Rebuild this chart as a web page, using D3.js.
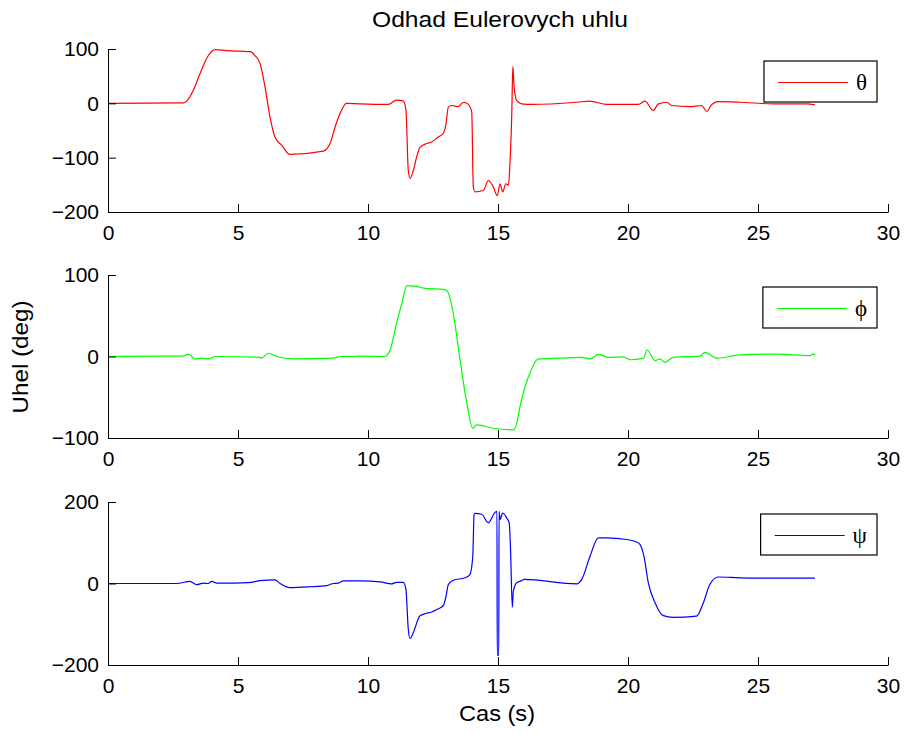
<!DOCTYPE html>
<html lang="en">
<head>
<meta charset="utf-8">
<title>Odhad Eulerovych uhlu</title>
<script src="https://d3js.org/d3.v7.min.js"></script>
<style type="text/css">
body { margin: 0; background: #fff; }
</style>
</head>
<body>
<div id="chart"></div>
<script type="text/javascript">
// Cas (s) and uhel (deg) for each Euler angle
var tTheta = [0, 2.9, 3.03, 3.28, 3.54, 3.86, 4.12, 4.56, 5.46, 5.65, 5.85, 6.04, 6.23, 6.42, 6.68, 7.0, 8.28, 8.54, 8.73, 8.92, 9.18, 9.7, 10.78, 11.1, 11.36, 11.46, 11.55, 11.62, 11.74, 11.87, 12.0, 12.26, 12.45, 12.7, 12.9, 13.0, 13.09, 13.22, 13.47, 13.67, 13.86, 13.99, 14.05, 14.12, 14.44, 14.63, 14.82, 14.97, 15.08, 15.18, 15.3, 15.4, 15.46, 15.53, 15.57, 15.62, 15.72, 15.91, 16.3, 18.03, 18.54, 19.18, 20.4, 20.65, 20.97, 21.17, 21.49, 21.68, 22.38, 22.83, 23.03, 23.22, 23.47, 24.3, 25.59, 26.87, 27.19];
var theta = [0, 1, 4, 24, 55, 88, 99, 97, 95, 88, 73, 30, -25, -62, -77, -94, -88, -74, -44, -19, 0, -1, -2, 6, 4, -13, -124, -138, -124, -99, -81, -74, -71, -62, -55, -38, -7, -4, -6, 2, -2, -16, -154, -163, -160, -142, -154, -170, -148, -163, -148, -151, -111, -19, 68, 30, 5, -1, -2, 2, 4, -2, -2, 4, -13, -1, 2, -4, -6, -4, -15, -2, 3, 2, -1, -1, -3];

var tPhi = [0, 2, 2.9, 3.09, 3.35, 3.6, 3.86, 4.12, 5.85, 5.9, 6.17, 6.49, 7.13, 8.67, 8.92, 9.31, 9.7, 10.65, 10.85, 11.1, 11.3, 11.49, 11.87, 12.13, 12.96, 13.09, 13.28, 13.54, 13.8, 14.03, 14.18, 14.82, 15.59, 15.72, 15.85, 16.23, 16.55, 17.38, 18.22, 18.54, 18.86, 19.24, 19.82, 20.08, 20.59, 20.74, 21.04, 21.23, 21.42, 21.74, 22.77, 22.96, 23.41, 24.3, 25.72, 27.0, 27.1, 27.2];
var phi = [0, 0.5, 0.5, 3, -3, -2, -3, 0, -1, -2, 4, 0, -3, -2, 0, 0, 0.5, 0, 8, 41, 65, 87, 86, 84, 82, 78, 53, -4, -57, -88, -84, -88, -90, -82, -61, -20, -3, -2, -1, -3, 2.5, -1, -0.5, -4, -2, 8, -5, -3, -7, -1, 0.5, 5, -2, 2, 3, 1, 3, 1.5];

var tPsi = [0, 2.64, 3.15, 3.41, 3.67, 3.85, 3.99, 4.18, 4.82, 5.53, 5.85, 6.42, 6.62, 7.0, 7.77, 8.41, 8.67, 8.86, 9.05, 9.7, 10.47, 10.9, 11.1, 11.36, 11.46, 11.55, 11.62, 11.74, 12.0, 12.2, 12.45, 12.64, 12.9, 13.0, 13.09, 13.28, 13.73, 13.92, 14.03, 14.08, 14.12, 14.37, 14.63, 14.88, 14.96, 14.97, 15.03, 15.04, 15.08, 15.18, 15.33, 15.43, 15.48, 15.55, 15.59, 15.72, 15.91, 16.0, 18.03, 18.22, 18.54, 18.86, 19.18, 19.95, 20.33, 20.46, 20.62, 20.78, 21.04, 21.36, 21.74, 22.64, 22.9, 23.15, 23.47, 24.3, 25.58, 27.19];
var psi = [0, 0, 5, -3, 1, 0, 5, 1, 1, 3, 7, 9, 0, -10, -8, -5, 0, 1, 6.5, 6.5, 4, -1, 3, 3, -15, -113, -135, -121, -79, -74, -70, -64, -54, -31, -2.5, 8, 14, 22, 67, 169, 172, 170, 149, 174, 177, -176, -176, 177, 157, 173, 161, 149, 88, -58, -19, 2, 7, 10, -1, 10, 67, 112, 112, 108, 102, 96, 65, 2, -47, -79, -83, -80, -47, -2, 16, 14, 13, 13];

// tick labels
var xTicks = [0, 5, 10, 15, 20, 25, 30];
var thetaTicks = [-200, -100, 0, 100];
var phiTicks = [-100, 0, 100];
var psiTicks = [-200, 0, 200];

var legendNames = ["\u03B8", "\u03D5", "\u03C8"];

//Width and height
var w = 907;
var h = 733;
var fontSans = "'Liberation Sans', Arial, sans-serif";
var fontSerif = "'Liberation Serif', 'Times New Roman', serif";
var tickFont = 21;
var labelFont = 22;

var svg = d3.select("div#chart")
  .append("svg")
  .attr("width", w)
  .attr("height", h);

var xScale = d3.scaleLinear()
  .domain([0, 30])
  .range([108, 888]);

var panels = [
  {t: tTheta, v: theta, color: "#ff0000", name: legendNames[0], top: 49, bottom: 212, domain: [-200, 100], ticks: thetaTicks},
  {t: tPhi, v: phi, color: "#00ff00", name: legendNames[1], top: 275, bottom: 438, domain: [-100, 100], ticks: phiTicks},
  {t: tPsi, v: psi, color: "#0000ff", name: legendNames[2], top: 502, bottom: 665, domain: [-200, 200], ticks: psiTicks}
];

panels.forEach(function (p) {
  var yScale = d3.scaleLinear()
    .domain(p.domain)
    .range([p.bottom, p.top]);

  var g = svg.append("g");

  // line
  var line = d3.line()
    .curve(d3.curveMonotoneX)
    .x(function (d) { return xScale(d[0]); })
    .y(function (d) { return yScale(d[1]); });

  g.append("path")
    .datum(d3.zip(p.t, p.v))
    .attr("d", line)
    .attr("fill", "none")
    .attr("stroke", p.color)
    .attr("stroke-width", 1.2)
    .attr("stroke-linejoin", "round");

  // axes, ticks pointing inwards
  var xAxis = d3.axisBottom(xScale)
    .tickValues(xTicks)
    .tickSize(-8)
    .tickSizeOuter(0)
    .tickPadding(13);

  var yAxis = d3.axisLeft(yScale)
    .tickValues(p.ticks)
    .tickSize(-8)
    .tickSizeOuter(0)
    .tickPadding(9);

  g.append("g")
    .attr("transform", "translate(0," + p.bottom + ")")
    .call(xAxis)
    .attr("font-size", tickFont)
    .attr("font-family", fontSans);

  g.append("g")
    .attr("transform", "translate(" + xScale(0) + ",0)")
    .call(yAxis)
    .attr("font-size", tickFont)
    .attr("font-family", fontSans);

  g.selectAll(".domain, .tick line").attr("stroke", "#000");

  // legend
  var leg = g.append("g");
  var box = leg.append("rect")
    .attr("fill", "#fff")
    .attr("stroke", "#000")
    .attr("stroke-width", 1.2);
  var label = leg.append("text")
    .attr("font-family", fontSerif)
    .attr("font-size", 23)
    .text(p.name);
  var tw = label.node().getComputedTextLength();
  var boxRight = 877, boxTop = p.top + 12, boxH = 41;
  var boxLeft = boxRight - (14 + 70 + 8 + tw + 10);
  var midY = Math.round(boxTop + boxH / 2) + 0.5;
  box.attr("x", boxLeft).attr("y", boxTop).attr("width", boxRight - boxLeft).attr("height", boxH);
  label.attr("x", boxLeft + 14 + 70 + 8).attr("y", boxTop + boxH / 2 + 8);
  leg.append("line")
    .attr("x1", boxLeft + 14).attr("x2", boxLeft + 84)
    .attr("y1", midY).attr("y2", midY)
    .style("stroke", p.color)
    .style("stroke-width", 1);
});

// title and axis labels
svg.append("text")
  .attr("x", 500)
  .attr("y", 27)
  .attr("text-anchor", "middle")
  .attr("font-family", fontSans)
  .attr("font-size", labelFont)
  .attr("textLength", 256)
  .attr("lengthAdjust", "spacingAndGlyphs")
  .text("Odhad Eulerovych uhlu");

svg.append("text")
  .attr("x", 497)
  .attr("y", 721)
  .attr("text-anchor", "middle")
  .attr("font-family", fontSans)
  .attr("font-size", labelFont)
  .attr("textLength", 76)
  .attr("lengthAdjust", "spacingAndGlyphs")
  .text("Cas (s)");

svg.append("text")
  .attr("transform", "translate(28,357) rotate(-90)")
  .attr("text-anchor", "middle")
  .attr("font-family", fontSans)
  .attr("font-size", labelFont)
  .attr("textLength", 113)
  .attr("lengthAdjust", "spacingAndGlyphs")
  .text("Uhel (deg)");
</script>
</body>
</html>
